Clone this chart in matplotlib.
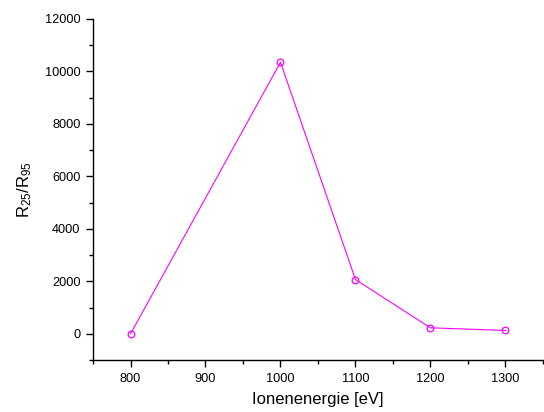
import numpy as np
import matplotlib.pyplot as plt

plt.rcParams['font.family'] = ['Liberation Sans', 'DejaVu Sans']
plt.rcParams['mathtext.fontset'] = 'custom'
plt.rcParams['mathtext.rm'] = 'Liberation Sans'
plt.rcParams['mathtext.it'] = 'Liberation Sans:italic'

# data
energy = [800, 1000, 1100, 1200, 1300]
ratio = [0, 10350, 2070, 230, 130]

fig = plt.figure(figsize=(5.44, 4.12), dpi=100)
ax = fig.add_axes([0.171, 0.126, 0.827, 0.828])

ax.plot(energy, ratio, color='#ff00ff', lw=0.8, marker='o', ms=4.8,
        mfc='none', mec='#ff00ff', mew=0.9)

ax.set_xlim(750, 1350)
ax.set_ylim(-1000, 12000)
ax.set_xticks([800, 900, 1000, 1100, 1200, 1300])
ax.set_xticks(np.arange(750, 1351, 50), minor=True)
ax.set_yticks(np.arange(0, 12001, 2000))
ax.set_yticks(np.arange(-1000, 12001, 1000), minor=True)

for s in ['top', 'right']:
    ax.spines[s].set_visible(False)
for s in ['left', 'bottom']:
    ax.spines[s].set_linewidth(1.0)

ax.tick_params(which='major', direction='out', length=5, width=1, labelsize=9.2, pad=4)
ax.tick_params(which='minor', direction='out', length=3, width=1)

ax.set_xlabel('Ionenenergie [eV]', fontsize=12, labelpad=5)
ax.set_ylabel(r'R$_{\mathrm{25}}$/R$_{\mathrm{95}}$', fontsize=12, labelpad=8)

fig.savefig('out.png', dpi=100)
